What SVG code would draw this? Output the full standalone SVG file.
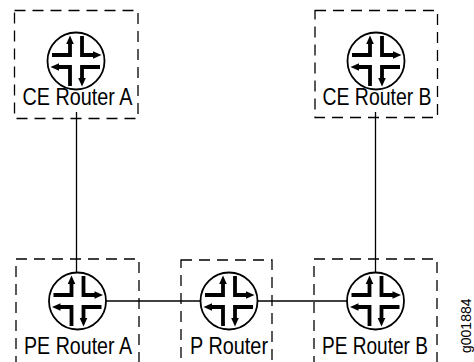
<svg xmlns="http://www.w3.org/2000/svg" xmlns:xlink="http://www.w3.org/1999/xlink" width="474" height="362" viewBox="0 0 474 362">
<style>
.box{fill:none;stroke:#000;stroke-width:1.3;stroke-dasharray:11 7}
.conn{stroke:#000;stroke-width:1.3;fill:none}
.lbl{font-family:"Liberation Sans",Arial,sans-serif;font-size:24px;fill:#000;text-anchor:middle}
.ring{fill:#fff;stroke:#000;stroke-width:1.8}
.arm{fill:none;stroke:#000;stroke-width:3.8;stroke-linejoin:miter}
.tip{fill:#000}
.fig{font-family:"Liberation Sans",Arial,sans-serif;font-size:14px;fill:#000}
</style>
<defs>
<g id="router">
<circle class="ring" r="28.5"/>
<path class="arm" d="M-24,-6H-6V-18"/>
<polygon class="tip" points="-6,-25.5 -9.8,-17 -2.2,-17"/>
<path class="arm" d="M6,-25V-6H18"/>
<polygon class="tip" points="25.5,-6 17,-9.8 17,-2.2"/>
<path class="arm" d="M-6,25V6H-18"/>
<polygon class="tip" points="-25.5,6 -17,2.2 -17,9.8"/>
<path class="arm" d="M24,6H6V18"/>
<polygon class="tip" points="6,25.5 2.2,17 9.8,17"/>
</g>
</defs>
<g id="connectors">
<line class="conn" x1="76.5" y1="112" x2="76.5" y2="273"/>
<line class="conn" x1="375.5" y1="112" x2="375.5" y2="273"/>
<line class="conn" x1="105" y1="301" x2="348" y2="301"/>
</g>
<g id="ce-router-a">
<rect class="box" x="14.5" y="10.5" width="123.5" height="108"/>
<use xlink:href="#router" href="#router" x="76" y="61"/>
<text class="lbl" x="77.5" y="105" textLength="110" lengthAdjust="spacingAndGlyphs">CE Router A</text>
</g>
<g id="ce-router-b">
<rect class="box" x="315" y="10.5" width="122.5" height="107"/>
<use xlink:href="#router" href="#router" x="376" y="61"/>
<text class="lbl" x="377" y="105" textLength="109" lengthAdjust="spacingAndGlyphs">CE Router B</text>
</g>
<g id="pe-router-a">
<rect class="box" x="16" y="259" width="123" height="120"/>
<use xlink:href="#router" href="#router" x="77.5" y="301"/>
<text class="lbl" x="78" y="354" textLength="108" lengthAdjust="spacingAndGlyphs">PE Router A</text>
</g>
<g id="p-router">
<rect class="box" x="181" y="260" width="91" height="120"/>
<use xlink:href="#router" href="#router" x="229" y="301"/>
<text class="lbl" x="229" y="354" textLength="78" lengthAdjust="spacingAndGlyphs">P Router</text>
</g>
<g id="pe-router-b">
<rect class="box" x="314" y="259" width="123" height="120"/>
<use xlink:href="#router" href="#router" x="375.5" y="301"/>
<text class="lbl" x="375" y="354" textLength="106" lengthAdjust="spacingAndGlyphs">PE Router B</text>
</g>
<text class="fig" transform="translate(471,353) rotate(-90)">g001884</text>
</svg>
